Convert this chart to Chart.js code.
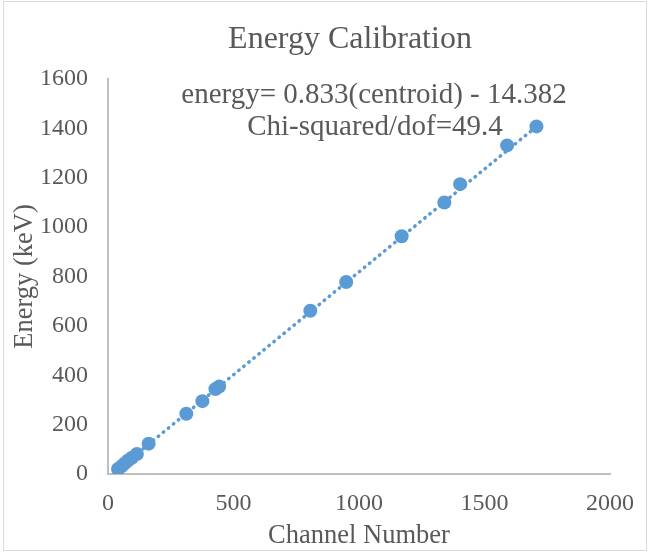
<!DOCTYPE html>
<html>
<head>
<meta charset="utf-8">
<script src="https://cdn.jsdelivr.net/npm/chart.js@4"></script>
<style>
  html, body { margin: 0; padding: 0; background: #fff; }
  #wrap { position: relative; width: 649px; height: 553px; }
  #wrap:after { content: ""; position: absolute; left: 3px; top: 1px; right: 2px; bottom: 2px; border: 1px solid #d9d9d9; pointer-events: none; }
</style>
</head>
<body>
<div id="wrap"><canvas id="myChart" width="649" height="553"></canvas></div>
<script>
// calibration peaks
var channels = [40, 55, 68, 80, 95, 115, 162, 312, 376, 428, 443, 806, 949, 1170, 1340, 1403, 1590, 1707];
var energies = [20, 32, 44, 55, 66, 81, 123, 244, 295, 344, 354, 661, 778, 963, 1100, 1174, 1331, 1408];

// fit shown in the chart
var fitSlope = 0.833;
var fitIntercept = -14.382;
var fitLabel = ["energy= 0.833(centroid) - 14.382", "Chi-squared/dof=49.4"];

var xTicks = [0, 500, 1000, 1500, 2000];
var yTicks = [0, 200, 400, 600, 800, 1000, 1200, 1400, 1600];

var textColor = "#595959";
var serif = "'Liberation Serif', 'Times New Roman', serif";
var blue = "#5B9BD5";

var points = channels.map(function (c, i) { return { x: c, y: energies[i] }; });
var xMin = Math.min.apply(null, channels);
var xMax = Math.max.apply(null, channels);
var trend = [xMin, xMax].map(function (c) { return { x: c, y: fitSlope * c + fitIntercept }; });

// title + fit text
var labelsPlugin = {
    id: "labels",
    afterDraw: function (chart) {
        var ctx = chart.ctx;
        ctx.save();
        ctx.fillStyle = textColor;
        ctx.textAlign = "center";
        ctx.textBaseline = "middle";
        ctx.font = "32px " + serif;
        ctx.fillText("Energy Calibration", 350, 40);
        ctx.font = "29px " + serif;
        ctx.fillText(fitLabel[0], 374, 95);
        ctx.fillText(fitLabel[1], 375, 127);
        ctx.restore();
    }
};

new Chart("myChart", {
    type: "scatter",
    data: {
        datasets: [{
            data: trend,
            showLine: true,
            borderColor: blue,
            borderWidth: 3.5,
            borderDash: [0.5, 6],
            borderCapStyle: "round",
            pointRadius: 0,
            fill: false
        }, {
            data: points,
            backgroundColor: blue,
            borderColor: blue,
            pointRadius: 7,
            pointBorderWidth: 0
        }]
    },
    options: {
        responsive: false,
        animation: false,
        layout: { padding: { left: 0, right: 35, top: 79, bottom: 0 } },
        plugins: {
            legend: { display: false },
            tooltip: { enabled: false }
        },
        scales: {
            x: {
                type: "linear",
                min: 0,
                max: 2000,
                afterBuildTicks: function (s) { s.ticks = xTicks.map(function (v) { return { value: v }; }); },
                afterFit: function (s) { s.height = 79; },
                grid: { display: false, drawTicks: false },
                border: { color: "#bfbfbf", width: 2 },
                ticks: { color: textColor, font: { family: serif, size: 24 }, padding: 15, maxRotation: 0, callback: function (v) { return String(v); } },
                title: { display: true, text: "Channel Number", color: textColor, font: { family: serif, size: 26.5 }, padding: { top: 0, bottom: 1 } }
            },
            y: {
                type: "linear",
                min: 0,
                max: 1600,
                afterBuildTicks: function (s) { s.ticks = yTicks.map(function (v) { return { value: v }; }); },
                afterFit: function (s) { s.width = 108; },
                grid: { display: false, drawTicks: false },
                border: { color: "#bfbfbf", width: 2 },
                ticks: { color: textColor, font: { family: serif, size: 24 }, padding: 20, callback: function (v) { return String(v); } },
                title: { display: true, text: "Energy (keV)", color: textColor, font: { family: serif, size: 26.5 }, padding: { top: 9, bottom: 0 } }
            }
        }
    },
    plugins: [labelsPlugin]
});
</script>
</body>
</html>
